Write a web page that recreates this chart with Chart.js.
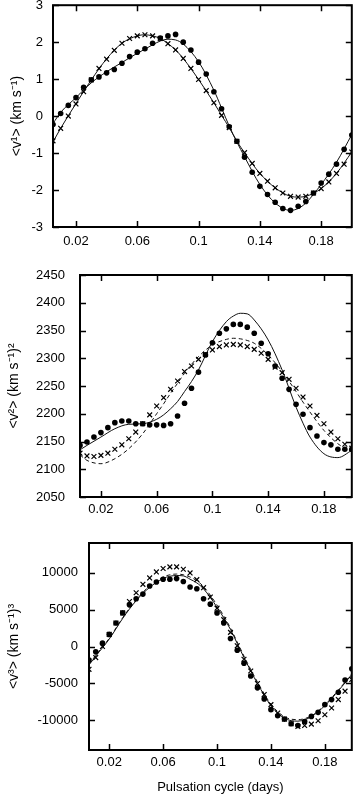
<!DOCTYPE html>
<html>
<head>
<meta charset="utf-8">
<script src="https://cdn.jsdelivr.net/npm/chart.js@4"></script>
<style>
  html, body { margin: 0; padding: 0; background: #fff; }
  body { width: 357px; height: 797px; position: relative; overflow: hidden; }
  canvas { position: absolute; left: 0; }
</style>
</head>
<body>
<canvas id="panel1" width="357" height="260" style="top:0"></canvas>
<canvas id="panel2" width="357" height="260" style="top:260px"></canvas>
<canvas id="panel3" width="357" height="277" style="top:520px"></canvas>
<script>
// Phase samples (days) for the measured points
const cycle = [
  0.005, 0.01, 0.015, 0.02, 0.025, 0.03, 0.035, 0.04, 0.045, 0.05,
  0.055, 0.06, 0.065, 0.07, 0.075, 0.08, 0.085, 0.09, 0.095, 0.1,
  0.105, 0.11, 0.115, 0.12, 0.125, 0.13, 0.135, 0.14, 0.145, 0.15,
  0.155, 0.16, 0.165, 0.17, 0.175, 0.18, 0.185, 0.19, 0.195, 0.2,
];
// Phase samples for the fitted curves
const fitCycle = [
  0.005, 0.01, 0.02, 0.03, 0.04, 0.05, 0.06, 0.065, 0.07, 0.075, 0.08, 0.085, 0.09,
  0.1, 0.11, 0.115, 0.12, 0.125, 0.13, 0.14, 0.15, 0.16, 0.165, 0.17, 0.18, 0.19, 0.2,
];
const cycleTicks = [0.02, 0.06, 0.1, 0.14, 0.18];

// <v^1>
const v1Dots = [
  -0.23, 0.07, 0.29, 0.50, 0.78, 0.98, 1.06, 1.17, 1.26, 1.43,
  1.61, 1.73, 1.82, 1.97, 2.11, 2.17, 2.21, 2.00, 1.79, 1.46,
  1.14, 0.66, 0.20, -0.29, -0.68, -1.11, -1.52, -1.90, -2.12, -2.33,
  -2.50, -2.55, -2.44, -2.31, -2.08, -1.81, -1.57, -1.30, -0.90, -0.51,
];
const v1Crosses = [
  -0.67, -0.33, 0.00, 0.33, 0.66, 0.98, 1.29, 1.54, 1.78, 1.97,
  2.10, 2.17, 2.20, 2.17, 2.10, 1.96, 1.79, 1.56, 1.29, 0.99,
  0.69, 0.36, 0.02, -0.31, -0.68, -0.99, -1.28, -1.55, -1.76, -1.94,
  -2.08, -2.17, -2.19, -2.17, -2.08, -1.96, -1.78, -1.55, -1.30, -0.97,
];
const v1FitDots = [
  -0.20, 0.10, 0.50, 0.90, 1.20, 1.45, 1.70, 1.81, 1.93, 2.03, 2.08, 2.06, 1.95,
  1.47, 0.70, 0.22, -0.27, -0.70, -1.10, -1.85, -2.35, -2.55, -2.50, -2.35, -1.85, -1.25, -0.50,
];
const v1FitCrosses = [
  -0.70, -0.33, 0.34, 0.98, 1.55, 1.97, 2.17, 2.20, 2.17, 2.10, 1.96, 1.79, 1.56,
  0.99, 0.36, 0.02, -0.31, -0.68, -0.99, -1.55, -1.94, -2.17, -2.19, -2.17, -1.96, -1.55, -0.97,
];
const v1Ticks = [-3, -2, -1, 0, 1, 2, 3];

// <v^2>
const v2Dots = [
  2143, 2149, 2158, 2166, 2175, 2184, 2187, 2187, 2182, 2182,
  2180, 2180, 2179, 2182, 2196, 2219, 2246, 2275, 2306, 2328,
  2345, 2353, 2361, 2361, 2356, 2345, 2327, 2308, 2286, 2264,
  2244, 2217, 2199, 2175, 2160, 2148, 2144, 2136, 2136, 2136,
];
const v2Crosses = [
  2129, 2124, 2123, 2125, 2129, 2136, 2144, 2155, 2167, 2182,
  2198, 2214, 2229, 2244, 2259, 2276, 2286, 2298, 2307, 2315,
  2321, 2324, 2325, 2324, 2321, 2316, 2309, 2298, 2284, 2274,
  2262, 2246, 2230, 2214, 2197, 2182, 2167, 2155, 2145, 2138,
];
const v2FitSolid = [
  2135, 2143, 2158, 2173, 2181, 2182, 2190, 2198, 2209, 2222, 2240, 2258, 2279,
  2330, 2366, 2376, 2381, 2380, 2369, 2333, 2279, 2212, 2183, 2158, 2128, 2121, 2134,
];
const v2FitDashed = [
  2126, 2116, 2110, 2119, 2137, 2164, 2200, 2218, 2237, 2255, 2273, 2289, 2303,
  2324, 2334, 2336, 2335, 2332, 2327, 2306, 2276, 2240, 2221, 2203, 2170, 2146, 2131,
];
const v2Ticks = [2050, 2100, 2150, 2200, 2250, 2300, 2350, 2400, 2450];

// <v^3>
const v3Dots = [
  -1818, -727, 455, 1636, 3182, 4545, 5636, 6455, 7091, 8182,
  8727, 9091, 9091, 9182, 8800, 8045, 7818, 6455, 5727, 4545,
  3182, 1091, -500, -2273, -4000, -5591, -7091, -8545, -9364, -9818,
  -10455, -10682, -10136, -9455, -8909, -7864, -7182, -6182, -4545, -3000,
];
const v3Crosses = [
  -3091, -1500, 0, 1636, 3182, 4545, 6091, 7273, 8409, 9273,
  10091, 10545, 10773, 10773, 10455, 9955, 9045, 7955, 6682, 5182,
  3636, 1909, 91, -1727, -3318, -5000, -6500, -7864, -9000, -9818,
  -10455, -10818, -10682, -10500, -10045, -9227, -8318, -7182, -6045, -4455,
];
const v3FitSolid = [
  -2500, -1300, 1000, 3800, 6200, 8000, 9200, 9500, 9600, 9550, 9100, 8600, 7800,
  5300, 2300, 400, -1500, -3300, -5000, -8000, -9700, -10100, -9900, -9500, -8000, -6000, -3800,
];
const v3FitDashed = [
  -2400, -1200, 1100, 3900, 6300, 8200, 9400, 9700, 9800, 9700, 9400, 8900, 8100,
  5600, 2500, 600, -1300, -3100, -4800, -7800, -9500, -9900, -9750, -9400, -7900, -5900, -3700,
];
const v3Ticks = [-10000, -5000, 0, 5000, 10000];

const FONT = "'Liberation Sans', Arial, sans-serif";

/**
 * Zip x and y arrays into scatter points.
 */
function toPoints(xs, ys) {
  return xs.map((x, i) => ({ x: x, y: ys[i] }));
}

/**
 * Draws the closed frame and the inward tick marks of gnuplot-like panels.
 */
const framePlugin = {
  id: "frame",
  afterDatasetsDraw(chart) {
    const { ctx, chartArea: a, scales } = chart;
    const len = 6;
    ctx.save();
    ctx.strokeStyle = "#000";
    ctx.lineWidth = 1.5;
    ctx.beginPath();
    scales.x.ticks.forEach((t) => {
      const px = Math.round(scales.x.getPixelForValue(t.value)) + 0.5;
      ctx.moveTo(px, a.bottom);
      ctx.lineTo(px, a.bottom - len);
      ctx.moveTo(px, a.top);
      ctx.lineTo(px, a.top + len);
    });
    scales.y.ticks.forEach((t) => {
      const py = Math.round(scales.y.getPixelForValue(t.value)) + 0.5;
      ctx.moveTo(a.left, py);
      ctx.lineTo(a.left + len, py);
      ctx.moveTo(a.right, py);
      ctx.lineTo(a.right - len, py);
    });
    ctx.stroke();
    ctx.lineWidth = 2;
    ctx.strokeRect(a.left, a.top, a.right - a.left, a.bottom - a.top);
    ctx.restore();
  },
};

function dotSet(xs, ys) {
  return {
    data: toPoints(xs, ys),
    showLine: false,
    pointStyle: "circle",
    pointRadius: 2.8,
    pointBackgroundColor: "#000",
    pointBorderWidth: 0,
    order: 1,
  };
}

function crossSet(xs, ys) {
  return {
    data: toPoints(xs, ys),
    showLine: false,
    pointStyle: "crossRot",
    pointRadius: 3.4,
    pointBorderColor: "#000",
    pointBorderWidth: 1.2,
    order: 1,
  };
}

function lineSet(xs, ys, dashed) {
  return {
    data: toPoints(xs, ys),
    showLine: true,
    borderColor: "#111",
    borderWidth: 1,
    borderDash: dashed ? [4, 3] : [],
    pointRadius: 0,
    cubicInterpolationMode: "monotone",
    fill: false,
    order: 2,
  };
}

/**
 * Build one panel.
 * @param {string} id - canvas id
 * @param {Object} cfg - panel layout and axis settings
 */
function makePanel(id, cfg) {
  const ctx = document.getElementById(id).getContext("2d");
  return new Chart(ctx, {
    type: "scatter",
    data: { datasets: cfg.datasets },
    options: {
      responsive: false,
      animation: false,
      devicePixelRatio: 1,
      layout: { padding: { top: cfg.padTop, right: 3, bottom: 0, left: 0 } },
      plugins: { legend: { display: false }, tooltip: { enabled: false } },
      scales: {
        x: {
          type: "linear",
          min: 0.005,
          max: 0.2,
          afterBuildTicks: (s) => { s.ticks = cycleTicks.map((v) => ({ value: v })); },
          afterFit: (s) => {
            s.height = cfg.xHeight;
            s.paddingLeft = 0;
            s.paddingRight = 0;
          },
          grid: { display: true, drawOnChartArea: false, drawTicks: false },
          border: { display: false },
          ticks: {
            color: "#000",
            padding: cfg.xPad,
            maxRotation: 0,
            font: { family: FONT, size: 13 },
            callback: (v) => String(v),
          },
          title: {
            display: !!cfg.xTitle,
            text: cfg.xTitle || "",
            color: "#000",
            padding: { top: 0, bottom: 2 },
            font: { family: FONT, size: 13 },
          },
        },
        y: {
          type: "linear",
          min: cfg.yMin,
          max: cfg.yMax,
          afterBuildTicks: (s) => { s.ticks = cfg.yTicks.map((v) => ({ value: v })); },
          afterFit: (s) => {
            s.width = cfg.yWidth;
            s.paddingTop = 0;
            s.paddingBottom = 0;
          },
          grid: { display: true, drawOnChartArea: false, drawTicks: false },
          border: { display: false },
          ticks: {
            color: "#000",
            padding: cfg.yPad,
            font: { family: FONT, size: 13 },
            callback: (v) => String(v),
          },
          title: {
            display: true,
            text: cfg.yTitle,
            color: "#000",
            padding: { top: cfg.yTitlePad, bottom: 0 },
            font: { family: FONT, size: 14 },
          },
        },
      },
    },
    plugins: [framePlugin],
  });
}

window.onload = function () {
  makePanel("panel1", {
    padTop: 5, xHeight: 33, yWidth: 53, yPad: 10, xPad: 7, yTitlePad: 9,
    yMin: -3, yMax: 3, yTicks: v1Ticks,
    yTitle: "<v¹> (km s⁻¹)",
    datasets: [
      lineSet(fitCycle, v1FitDots, false),
      lineSet(fitCycle, v1FitCrosses, false),
      dotSet(cycle, v1Dots),
      crossSet(cycle, v1Crosses),
    ],
  });
  makePanel("panel2", {
    padTop: 15, xHeight: 23, yWidth: 80, yPad: 15, xPad: 5, yTitlePad: 6,
    yMin: 2050, yMax: 2450, yTicks: v2Ticks,
    yTitle: "<v²> (km s⁻¹)²",
    datasets: [
      lineSet(fitCycle, v2FitSolid, false),
      lineSet(fitCycle, v2FitDashed, true),
      dotSet(cycle, v2Dots),
      crossSet(cycle, v2Crosses),
    ],
  });
  makePanel("panel3", {
    padTop: 23, xHeight: 47, yWidth: 89, yPad: 11, xPad: 5, yTitlePad: 6,
    yMin: -14000, yMax: 14000, yTicks: v3Ticks,
    yTitle: "<v³> (km s⁻¹)³",
    xTitle: "Pulsation cycle (days)",
    datasets: [
      lineSet(fitCycle, v3FitSolid, false),
      lineSet(fitCycle, v3FitDashed, true),
      dotSet(cycle, v3Dots),
      crossSet(cycle, v3Crosses),
    ],
  });
};
</script>
</body>
</html>
